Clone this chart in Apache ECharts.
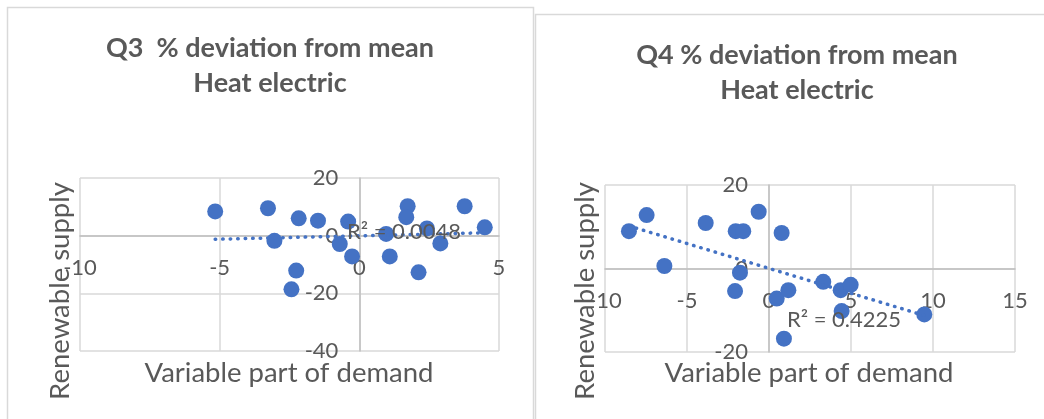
<!DOCTYPE html>
<html>
<head>
<meta charset="utf-8">
<script src="https://cdn.jsdelivr.net/npm/echarts@6/dist/echarts.min.js"></script>
<style>
html,body{margin:0;padding:0;background:#fff;}
#c{width:1044px;height:419px;}
</style>
</head>
<body>
<div id="c"></div>
<script>
// ---- Data ----
const q3X = [-5.16, -3.27, -3.04, -2.17, -2.26, -2.43, -1.48, -0.40, -0.70, -0.26, 0.96, 1.09, 1.73, 1.68, 2.12, 2.42, 2.90, 3.77, 4.49];
const q3Y = [8.4, 9.5, -1.8, 6.0, -12.1, -18.6, 5.2, 4.9, -2.9, -7.2, 0.6, -7.2, 10.2, 6.4, -12.7, 2.5, -2.7, 10.2, 2.9];
const q3TrendX = [-5.16, 4.49];
const q3TrendY = [-1.25, 1.0];
const q3R2 = 'R² = 0.0048';

const q4X = [-8.54, -7.46, -6.38, -3.86, -2.03, -1.57, -1.77, -2.07, -0.63, 0.77, 0.47, 1.18, 0.91, 3.31, 4.37, 4.98, 4.43, 9.47];
const q4Y = [8.95, 12.8, 0.6, 10.9, 8.95, 8.95, -1.0, -5.4, 13.6, 8.5, -7.2, -5.2, -16.8, -3.2, -5.2, -3.9, -10.2, -11.0];
const q4TrendX = [-8.54, 9.47];
const q4TrendY = [10.2, -11.25];
const q4R2 = 'R² = 0.4225';

const q3XTicks = [-10, -5, 0, 5];
const q3YTicks = [-40, -20, 0, 20];
const q4XTicks = [-10, -5, 0, 5, 10, 15];
const q4YTicks = [-20, 0, 20];

const titles = ['Q3  % deviation from mean\nHeat electric', 'Q4 % deviation from mean\nHeat electric'];
const xTitle = 'Variable part of demand';
const yTitle = 'Renewable supply';

// ---- Styles / layout ----
const FONT = 'Lato, "Open Sans", sans-serif';
const TXT = '#595959';
const BLUE = '#4472C4';
const GRID = '#d9d9d9';
const grids = [
  { left: 80, top: 178, width: 419, height: 173 },
  { left: 605, top: 185, width: 410, height: 167 }
];

function zip(a, b) { return a.map((v, i) => [v, b[i]]); }

const labelStyle = { color: TXT, fontFamily: FONT, fontSize: 22, margin: 21, showMinLabel: true, showMaxLabel: true, hideOverlap: false };

// Excel-style axes crossing at zero: shift each axis from the grid edge to the other axis' zero.
function xAxisFor(idx, ticks, yTicks) {
  const g = grids[idx];
  const yMin = yTicks[0], yMax = yTicks[yTicks.length - 1];
  return {
    type: 'value', gridIndex: idx, position: 'bottom',
    offset: -g.height * (0 - yMin) / (yMax - yMin),
    min: ticks[0], max: ticks[ticks.length - 1], interval: ticks[1] - ticks[0],
    axisLine: { show: true, onZero: false, lineStyle: { color: '#bfbfbf', width: 1.5 } },
    axisTick: { show: false },
    axisLabel: labelStyle,
    splitLine: { show: true, lineStyle: { color: GRID, width: 1.5 } }
  };
}
function yAxisFor(idx, ticks, xTicks) {
  const g = grids[idx];
  const xMin = xTicks[0], xMax = xTicks[xTicks.length - 1];
  return {
    type: 'value', gridIndex: idx, position: 'left',
    offset: -g.width * (0 - xMin) / (xMax - xMin),
    min: ticks[0], max: ticks[ticks.length - 1], interval: ticks[1] - ticks[0],
    axisLine: { show: true, onZero: false, lineStyle: { color: '#bfbfbf', width: 1.5 } },
    axisTick: { show: false },
    axisLabel: labelStyle,
    splitLine: { show: true, lineStyle: { color: GRID, width: 1.5 } }
  };
}

const chart = echarts.init(document.getElementById('c'), null, { renderer: 'canvas' });

const trendStyle = { color: BLUE, width: 3.5, type: [0.5, 7], cap: 'round' };

const option = {
  animation: false,
  backgroundColor: '#fff',
  grid: grids,
  xAxis: [xAxisFor(0, q3XTicks, q3YTicks), xAxisFor(1, q4XTicks, q4YTicks)],
  yAxis: [yAxisFor(0, q3YTicks, q3XTicks), yAxisFor(1, q4YTicks, q4XTicks)],
  series: [
    {
      type: 'line', xAxisIndex: 0, yAxisIndex: 0, data: zip(q3TrendX, q3TrendY),
      symbol: 'none', lineStyle: trendStyle, z: 3
    },
    {
      type: 'scatter', xAxisIndex: 0, yAxisIndex: 0, data: zip(q3X, q3Y),
      symbolSize: 16, itemStyle: { color: BLUE, opacity: 1 }, z: 2
    },
    {
      type: 'line', xAxisIndex: 1, yAxisIndex: 1, data: zip(q4TrendX, q4TrendY),
      symbol: 'none', lineStyle: trendStyle, z: 3
    },
    {
      type: 'scatter', xAxisIndex: 1, yAxisIndex: 1, data: zip(q4X, q4Y),
      symbolSize: 16, itemStyle: { color: BLUE, opacity: 1 }, z: 2
    }
  ],
  graphic: [
    { type: 'rect', z: -10, shape: { x: 7.5, y: 7.5, width: 526, height: 500 }, style: { fill: '#fff', stroke: GRID, lineWidth: 1.5 } },
    { type: 'rect', z: -10, shape: { x: 535.5, y: 14.5, width: 600, height: 500 }, style: { fill: '#fff', stroke: GRID, lineWidth: 1.5 } },
    { type: 'text', z: 10, x: 270, y: 31, style: { text: titles[0], fill: TXT, font: 'bold 27px ' + FONT, textAlign: 'center', textVerticalAlign: 'top', lineHeight: 35 } },
    { type: 'text', z: 10, x: 797, y: 38, style: { text: titles[1], fill: TXT, font: 'bold 27px ' + FONT, textAlign: 'center', textVerticalAlign: 'top', lineHeight: 35 } },
    { type: 'text', z: 10, x: 289, y: 373, style: { text: xTitle, fill: TXT, font: '27.5px ' + FONT, textAlign: 'center', textVerticalAlign: 'middle' } },
    { type: 'text', z: 10, x: 809, y: 373, style: { text: xTitle, fill: TXT, font: '27.5px ' + FONT, textAlign: 'center', textVerticalAlign: 'middle' } },
    { type: 'text', z: 10, x: 60, y: 291, rotation: Math.PI / 2, style: { text: yTitle, fill: TXT, font: '27.5px ' + FONT, textAlign: 'center', textVerticalAlign: 'middle' } },
    { type: 'text', z: 10, x: 585, y: 291, rotation: Math.PI / 2, style: { text: yTitle, fill: TXT, font: '27.5px ' + FONT, textAlign: 'center', textVerticalAlign: 'middle' } },
    { type: 'text', z: 10, x: 404, y: 232, style: { text: q3R2, fill: TXT, font: '22px ' + FONT, textAlign: 'center', textVerticalAlign: 'middle' } },
    { type: 'text', z: 10, x: 844, y: 320, style: { text: q4R2, fill: TXT, font: '22px ' + FONT, textAlign: 'center', textVerticalAlign: 'middle' } }
  ]
};
chart.setOption(option);
</script>
</body>
</html>
